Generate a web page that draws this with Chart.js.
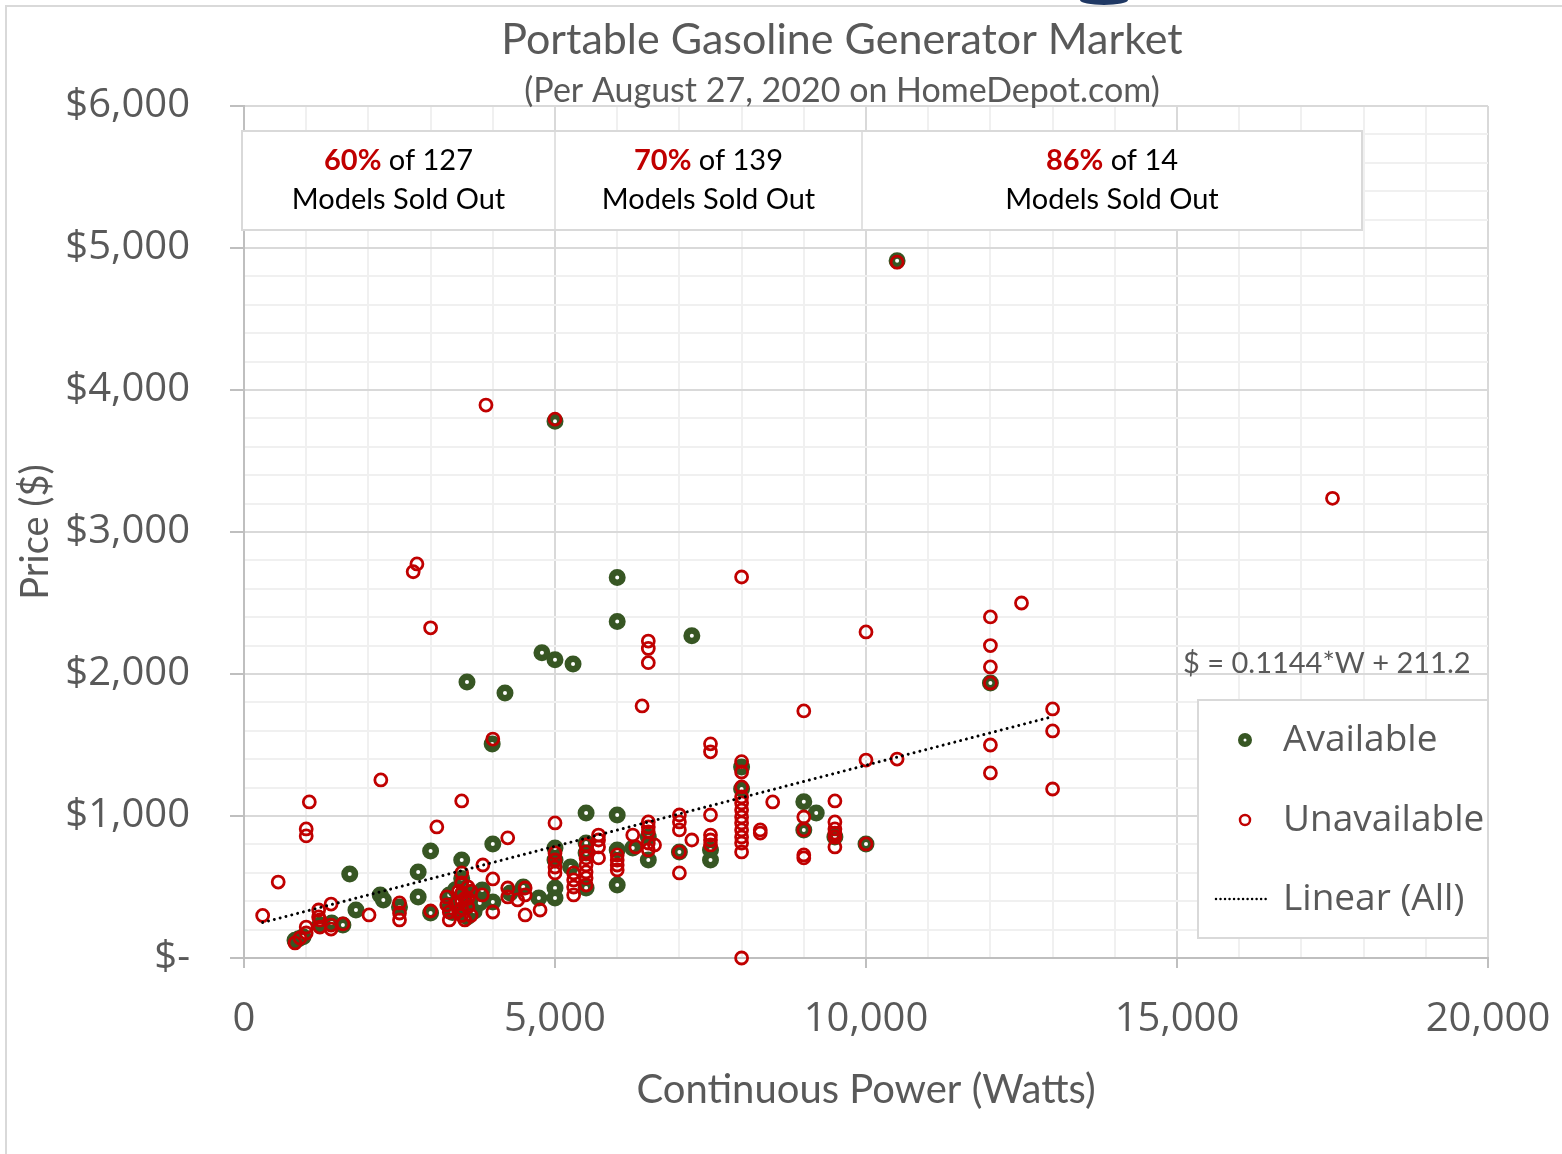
<!DOCTYPE html>
<html>
<head>
<meta charset="utf-8">
<script src="https://cdn.jsdelivr.net/npm/chart.js@4.4.1/dist/chart.umd.min.js"></script>
<style>
  html, body { margin: 0; padding: 0; background: #fff; }
  #wrap { position: relative; width: 1562px; height: 1154px; }
</style>
</head>
<body>
<div id="wrap"><canvas id="genChart" width="1562" height="1154"></canvas></div>
<script>
// Portable gasoline generators, [continuous watts, price $]
const available = [
  [820, 125], [880, 135], [950, 150],
  [1220, 232], [1410, 247], [1590, 232],
  [1700, 592], [1800, 338],
  [2190, 444], [2240, 409], [2500, 360],
  [2800, 606], [2800, 430],
  [3000, 754], [3000, 317],
  [3300, 444], [3310, 360], [3350, 320], [3400, 480], [3450, 400], [3500, 690], [3500, 560],
  [3550, 330], [3590, 289], [3600, 450], [3650, 380], [3700, 420], [3700, 330],
  [3790, 388], [3830, 479], [4000, 394], [4000, 803],
  [4280, 458], [4490, 500], [4740, 423],
  [3585, 1944], [4196, 1866], [3990, 1507], [4790, 2150],
  [5000, 3780], [5000, 2100], [5290, 2070], [6000, 2680], [6000, 2370], [7200, 2270],
  [5000, 775], [5000, 690], [5000, 493], [5000, 423],
  [5250, 641], [5500, 1021], [5500, 810], [5500, 740], [5500, 493],
  [6000, 1007], [6000, 761], [6000, 514], [6250, 775], [6500, 852], [6500, 690],
  [7000, 747], [7500, 761], [7500, 690],
  [8000, 1345], [8000, 1190],
  [9000, 1100], [9200, 1021], [9000, 902], [9500, 852], [10000, 803],
  [10500, 4910], [12000, 1937]
];

const unavailable = [
  [300, 300], [550, 535], [820, 106], [900, 141], [1000, 176], [1000, 218],
  [1000, 860], [1000, 909], [1050, 1099],
  [1200, 338], [1200, 289], [1220, 268], [1220, 218], [1400, 380], [1400, 232], [1400, 204], [1590, 240],
  [2010, 303], [2200, 1254],
  [2500, 388], [2500, 317], [2500, 268],
  [2720, 2720], [2780, 2775], [3000, 2325], [3000, 331], [3100, 923],
  [3260, 430], [3260, 374], [3300, 324], [3300, 268],
  [3400, 380], [3450, 330], [3450, 470], [3500, 1106], [3500, 599], [3500, 528], [3500, 458],
  [3500, 400], [3500, 350], [3500, 300], [3550, 420], [3550, 268], [3600, 500], [3600, 420],
  [3600, 360], [3650, 300], [3650, 470],
  [3840, 655], [3830, 444], [3890, 3894], [4000, 1542], [4000, 557], [4000, 324],
  [4240, 846], [4240, 493], [4240, 430], [4400, 409], [4520, 493], [4520, 444], [4520, 303], [4760, 338],
  [5000, 3795], [5000, 951], [5000, 740], [5000, 690], [5000, 641], [5000, 599],
  [5300, 599], [5300, 550], [5300, 500], [5300, 444],
  [5500, 796], [5500, 747], [5500, 705], [5500, 655], [5500, 606], [5500, 564], [5500, 514],
  [5700, 866], [5700, 831], [5700, 782], [5700, 705],
  [6000, 726], [6000, 690], [6000, 655], [6000, 620],
  [6250, 866], [6300, 782],
  [6400, 1775], [6500, 2232], [6500, 2180], [6500, 2080],
  [6500, 958], [6500, 923], [6500, 888], [6500, 810], [6500, 761], [6600, 796],
  [7000, 1007], [7000, 958], [7000, 902], [7000, 747], [7000, 599],
  [7200, 831],
  [7500, 1508], [7500, 1452], [7500, 1007], [7500, 866], [7500, 831], [7500, 796],
  [8000, 2683], [8000, 1383], [8000, 1310], [8000, 1205], [8000, 1134], [8000, 1092], [8000, 1042],
  [8000, 993], [8000, 951], [8000, 902], [8000, 852], [8000, 810], [8000, 747], [8000, 0],
  [8300, 902], [8300, 880], [8500, 1099],
  [9000, 1740], [9000, 993], [9000, 902], [9000, 726], [9000, 705],
  [9500, 1106], [9500, 958], [9500, 909], [9500, 880], [9500, 852], [9500, 782],
  [10000, 2296], [10000, 1394], [10000, 803],
  [10500, 4900], [10500, 1401],
  [12000, 2402], [12000, 2200], [12000, 2050], [12000, 1937], [12000, 1500], [12000, 1303],
  [12500, 2500], [13000, 1754], [13000, 1599], [13000, 1190], [17500, 3237]
];

// trend line end points as drawn
const trendWatts = [300, 13000];
const trendPrice = [250, 1700];
const trendLabel = '$ = 0.1144*W + 211.2';

// sold-out summary per power band
const soldOutPct = ['60%', '70%', '86%'];
const modelCounts = [127, 139, 14];

const xTickStep = 1000, xLabelStep = 5000;
const yTickStep = 200, yLabelStep = 1000;

const GREEN = '#375623', RED = '#c00000', GREY = '#595959';

function toXY(list) {
  return list.map(p => ({ x: p[0], y: p[1] }));
}

const chartText = {
  id: 'chartText',
  beforeDraw(chart) {
    const ctx = chart.ctx;
    ctx.save();
    ctx.fillStyle = '#fff';
    ctx.fillRect(0, 0, chart.width, chart.height);
    ctx.strokeStyle = '#d9d9d9';
    ctx.lineWidth = 2;
    ctx.beginPath();
    ctx.moveTo(6, chart.height);
    ctx.lineTo(6, 6);
    ctx.lineTo(chart.width, 6);
    ctx.stroke();
    ctx.fillStyle = '#1f3864';
    ctx.beginPath();
    ctx.ellipse(1104, 0, 24, 5, 0, 0, Math.PI);
    ctx.fill();
    ctx.restore();
  },
  beforeDatasetsDraw(chart) {
    const ctx = chart.ctx;
    const edges = [242, 555, 862, 1362];
    const top = 131, bottom = 230;
    ctx.save();
    ctx.fillStyle = '#fff';
    ctx.fillRect(edges[0], top, edges[3] - edges[0], bottom - top);
    ctx.strokeStyle = '#d9d9d9';
    ctx.lineWidth = 2;
    ctx.strokeRect(edges[0], top, edges[3] - edges[0], bottom - top);
    ctx.lineWidth = 1.5;
    [1, 2].forEach(i => {
      ctx.beginPath();
      ctx.moveTo(edges[i], top);
      ctx.lineTo(edges[i], bottom);
      ctx.stroke();
    });
    ctx.textBaseline = 'middle';
    for (let i = 0; i < 3; i++) {
      const cx = (edges[i] + edges[i + 1]) / 2;
      const parts = [
        { text: soldOutPct[i], font: 'bold 29px Lato', color: RED },
        { text: ' of ' + modelCounts[i], font: '29px Lato', color: '#000' }
      ];
      let total = 0;
      parts.forEach(p => { ctx.font = p.font; p.w = ctx.measureText(p.text).width; total += p.w; });
      let x = cx - total / 2;
      ctx.textAlign = 'left';
      parts.forEach(p => { ctx.font = p.font; ctx.fillStyle = p.color; ctx.fillText(p.text, x, 161); x += p.w; });
      ctx.font = '29px Lato';
      ctx.fillStyle = '#000';
      ctx.textAlign = 'center';
      ctx.fillText('Models Sold Out', cx, 200);
    }
    // regression equation
    ctx.font = '29px Lato';
    ctx.fillStyle = GREY;
    ctx.textAlign = 'left';
    ctx.fillText(trendLabel, 1183, 664);
    ctx.restore();
  },
  afterDraw(chart) {
    const ctx = chart.ctx;
    ctx.save();
    // titles
    ctx.fillStyle = GREY;
    ctx.textAlign = 'center';
    ctx.textBaseline = 'middle';
    ctx.font = '43px Lato';
    ctx.fillText('Portable Gasoline Generator Market', 842, 40);
    ctx.font = '34px Lato';
    ctx.fillText('(Per August 27, 2020 on HomeDepot.com)', 842, 91);

    // legend
    const lx = 1198, ly = 700, lw = 290, lh = 238;
    ctx.fillStyle = '#fff';
    ctx.fillRect(lx, ly, lw, lh);
    ctx.strokeStyle = '#d9d9d9';
    ctx.lineWidth = 2;
    ctx.strokeRect(lx, ly, lw, lh);

    ctx.beginPath();
    ctx.arc(1245, 740, 4.25, 0, Math.PI * 2);
    ctx.lineWidth = 5.5;
    ctx.strokeStyle = GREEN;
    ctx.fillStyle = '#fff';
    ctx.fill();
    ctx.stroke();

    ctx.beginPath();
    ctx.arc(1245, 820, 5, 0, Math.PI * 2);
    ctx.lineWidth = 2.5;
    ctx.strokeStyle = RED;
    ctx.stroke();

    ctx.beginPath();
    ctx.setLineDash([0.01, 4.5]);
    ctx.lineCap = 'round';
    ctx.lineWidth = 2.5;
    ctx.strokeStyle = '#000';
    ctx.moveTo(1216, 899);
    ctx.lineTo(1270, 899);
    ctx.stroke();
    ctx.setLineDash([]);

    ctx.font = '37px "Open Sans"';
    ctx.fillStyle = GREY;
    ctx.textAlign = 'left';
    ctx.fillText('Available', 1283, 740);
    ctx.fillText('Unavailable', 1283, 820);
    ctx.fillText('Linear (All)', 1283, 899);
    ctx.restore();
  }
};

function gridColor(ctx, step) {
  return ctx.tick && ctx.tick.value % step === 0 ? '#d9d9d9' : '#f0f0f0';
}

new Chart(document.getElementById('genChart').getContext('2d'), {
  type: 'scatter',
  data: {
    datasets: [{
      label: 'Linear (All)',
      type: 'line',
      data: trendWatts.map((w, i) => ({ x: w, y: trendPrice[i] })),
      borderColor: '#000',
      borderWidth: 3,
      borderDash: [0.01, 6],
      borderCapStyle: 'round',
      pointRadius: 0,
      fill: false,
      order: 0
    }, {
      label: 'Unavailable',
      data: toXY(unavailable),
      pointRadius: 6,
      pointBorderWidth: 2.8,
      pointBorderColor: RED,
      pointBackgroundColor: 'rgba(255,255,255,0)',
      clip: 12,
      order: 1
    }, {
      label: 'Available',
      data: toXY(available),
      pointRadius: 5.25,
      pointBorderWidth: 6.5,
      pointBorderColor: GREEN,
      pointBackgroundColor: '#ffffff',
      clip: 12,
      order: 2
    }]
  },
  options: {
    responsive: false,
    animation: false,
    events: [],
    layout: { padding: { top: 106, right: 74, left: 0, bottom: 0 } },
    plugins: {
      legend: { display: false },
      tooltip: { enabled: false },
      title: { display: false }
    },
    scales: {
      x: {
        type: 'linear',
        min: 0,
        max: 20000,
        afterFit(scale) {
          scale.height = 196;
          scale.paddingLeft = 0;
          scale.paddingRight = 0;
        },
        border: { color: '#bfbfbf', width: 2 },
        grid: {
          color: ctx => gridColor(ctx, xLabelStep),
          lineWidth: 2,
          tickLength: 10,
          tickColor: ctx => ctx.tick && ctx.tick.value % xLabelStep === 0 ? '#bfbfbf' : 'rgba(0,0,0,0)'
        },
        ticks: {
          stepSize: xTickStep,
          autoSkip: false,
          maxRotation: 0,
          padding: 28,
          color: GREY,
          font: { family: 'Open Sans', size: 40 },
          callback: v => v % xLabelStep === 0 ? v.toLocaleString('en-US') : ''
        },
        title: {
          display: true,
          text: 'Continuous Power (Watts)',
          color: GREY,
          font: { family: 'Lato', size: 40 },
          padding: { top: 0, bottom: 40 }
        }
      },
      y: {
        min: 0,
        max: 6000,
        afterFit(scale) { scale.width = 244; },
        border: { color: '#bfbfbf', width: 2 },
        grid: {
          color: ctx => gridColor(ctx, yLabelStep),
          lineWidth: 2,
          tickLength: 14,
          tickColor: ctx => ctx.tick && ctx.tick.value % yLabelStep === 0 ? '#bfbfbf' : 'rgba(0,0,0,0)'
        },
        ticks: {
          stepSize: yTickStep,
          autoSkip: false,
          padding: 40,
          color: GREY,
          font: { family: 'Open Sans', size: 40 },
          callback: v => v % yLabelStep !== 0 ? '' : (v === 0 ? '$-' : '$' + v.toLocaleString('en-US'))
        },
        title: {
          display: true,
          text: 'Price ($)',
          color: GREY,
          font: { family: 'Lato', size: 38 },
          padding: { top: 13, bottom: 0 }
        }
      }
    }
  },
  plugins: [chartText]
});
</script>
</body>
</html>
